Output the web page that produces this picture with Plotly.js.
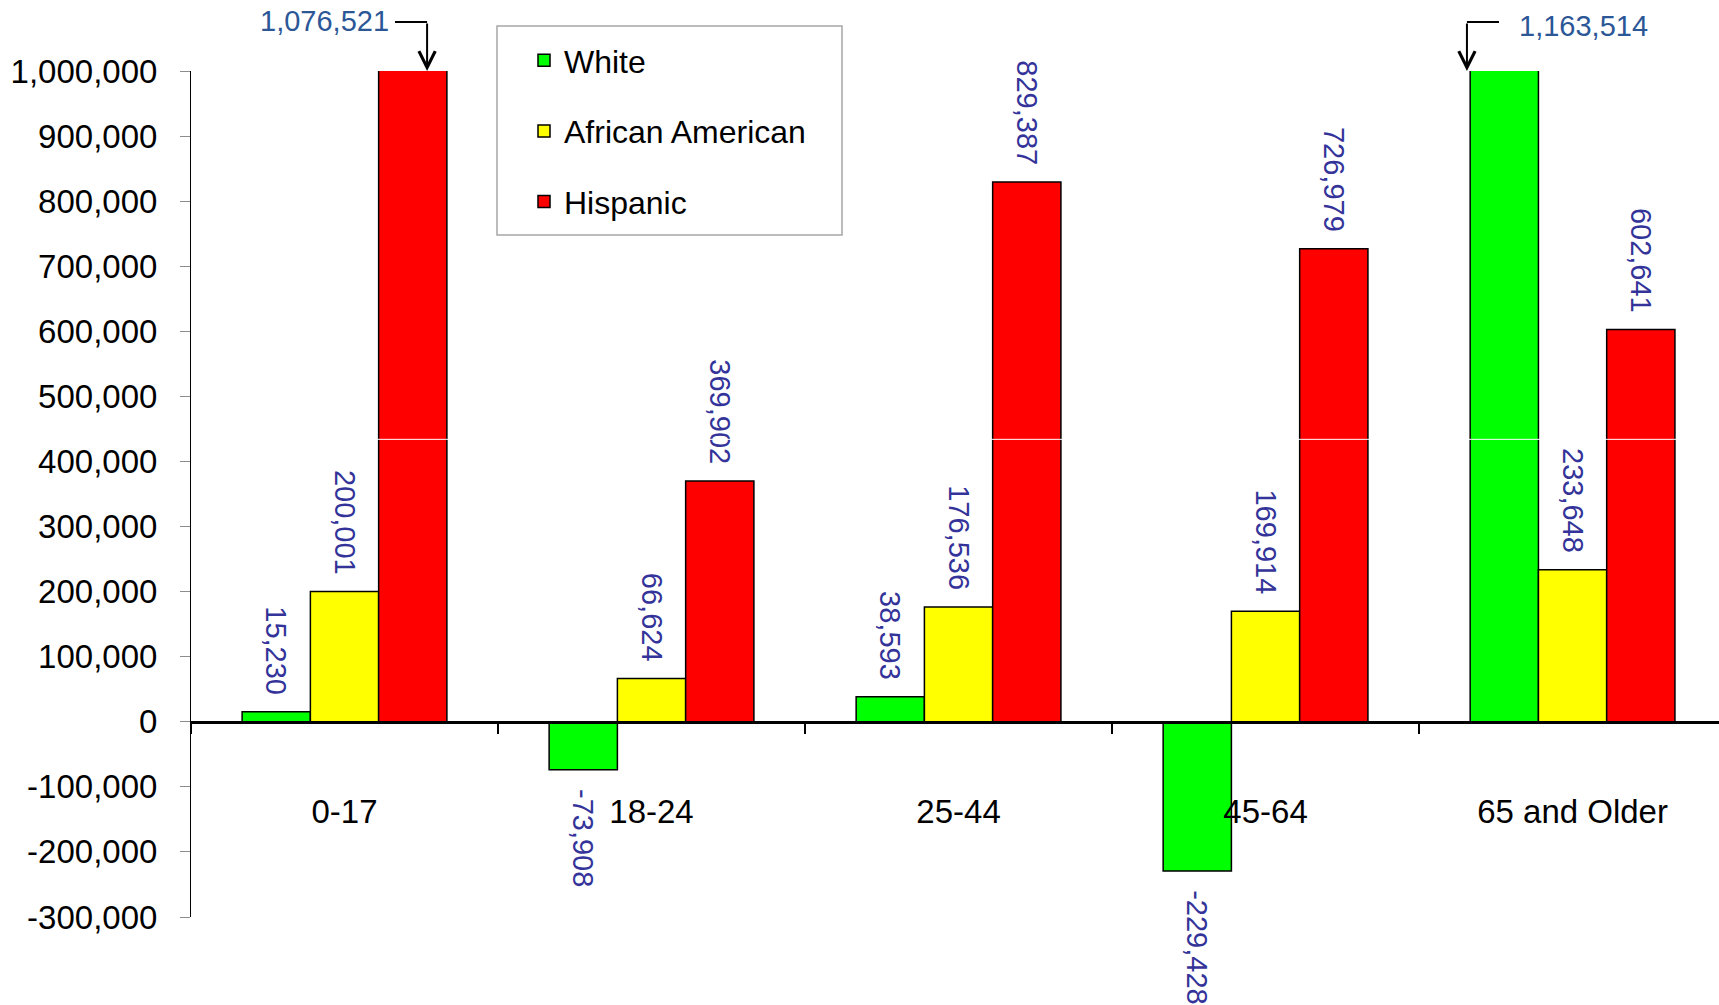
<!DOCTYPE html>
<html>
<head>
<meta charset="utf-8">
<script src="https://cdn.plot.ly/plotly-3.0.1.min.js"></script>
<style>html,body{margin:0;padding:0;background:#fff;}</style>
</head>
<body>
<div id="chart" style="width:1719px;height:1005px;"></div>
<script>
// ---- data ----
const categories = ['0-17', '18-24', '25-44', '45-64', '65 and Older'];
const seriesNames = ['White', 'African American', 'Hispanic'];
const white = [15230, -73908, 38593, -229428, 1163514];
const africanAmerican = [200001, 66624, 176536, 169914, 233648];
const hispanic = [1076521, 369902, 829387, 726979, 602641];
const yTickValues = [-300000, -200000, -100000, 0, 100000, 200000, 300000, 400000, 500000, 600000, 700000, 800000, 900000, 1000000];
const breakLineValue = 434000;

// ---- style ----
const seriesColors = ['#00FF00', '#FFFF00', '#FF0000'];
const FONT = '"Liberation Sans", Arial, sans-serif';
const labelColor = '#333399';
const calloutColor = '#2B5797';
const yMin = -300000, yMax = 1000000;
const xMin = -0.5, xMax = 4.477;
const plotL = 191, plotT = 71, plotW = 1528, plotH = 846;
const pxX = px => (px - plotL) / plotW;
const pxY = py => (plotT + plotH - py) / plotH;
const dataX = x => (x - xMin) / (xMax - xMin);

const fmt = v => v.toLocaleString('en-US');
const labelFor = v => v > yMax ? '' : (v >= 0 ? fmt(v) + '\u00a0\u2009' : '\u00a0\u00a0' + fmt(v));

const seriesValues = [white, africanAmerican, hispanic];
const traces = seriesValues.map((vals, i) => ({
  type: 'bar',
  name: seriesNames[i],
  x: categories,
  y: vals,
  legendgroup: 'g' + i,
  marker: {color: seriesColors[i], line: {color: '#000000', width: 1.5}},
  text: vals.map(labelFor),
  textposition: 'outside',
  textangle: 90,
  constraintext: 'none',
  cliponaxis: false,
  outsidetextfont: {family: FONT, size: 29, color: labelColor},
  hoverinfo: 'x+y+name'
}));

// callouts for the clipped bars (values above the axis maximum)
const callouts = [
  {value: hispanic[0], cat: 0, arrowOffset: 0.269, textSide: 'left', textPx: 391, textY: 21, lineEndPx: 395, lineY: 22},
  {value: white[4], cat: 4, arrowOffset: -0.344, textSide: 'right', textPx: 1517, textY: 26, lineEndPx: 1499, lineY: 22}
];
const annotations = [];
const shapes = [];
callouts.forEach(c => {
  const ax = c.cat + c.arrowOffset;
  annotations.push({
    xref: 'paper', yref: 'paper',
    x: pxX(c.textPx), y: pxY(c.textY),
    xanchor: c.textSide === 'left' ? 'right' : 'left', yanchor: 'middle',
    text: fmt(c.value), showarrow: false,
    font: {family: FONT, size: 29, color: calloutColor}
  });
  annotations.push({
    xref: 'x', yref: 'paper', x: ax, y: 1,
    text: '', showarrow: true, ax: 0, ay: -(plotT - c.lineY),
    arrowhead: 5, arrowsize: 1.6, arrowwidth: 2, arrowcolor: '#000000', standoff: 0
  });
  shapes.push({
    type: 'line', xref: 'paper', yref: 'paper',
    x0: dataX(ax), x1: pxX(c.lineEndPx), y0: pxY(c.lineY), y1: pxY(c.lineY),
    line: {color: '#000000', width: 2}
  });
});
// thin white break line across tall bars
shapes.push({
  type: 'line', xref: 'paper', yref: 'y', layer: 'above',
  x0: 0.005, x1: 1, y0: breakLineValue, y1: breakLineValue,
  line: {color: '#FFFFFF', width: 1}
});
// legend frame
shapes.push({
  type: 'rect', xref: 'paper', yref: 'paper',
  x0: pxX(497), x1: pxX(842), y0: pxY(26), y1: pxY(235),
  line: {color: '#A6A6A6', width: 1.5}, fillcolor: 'rgba(0,0,0,0)'
});

const layout = {
  width: 1719, height: 1005,
  margin: {l: plotL, r: 0, t: plotT, b: 1005 - plotT - plotH, pad: 0},
  paper_bgcolor: '#FFFFFF', plot_bgcolor: '#FFFFFF',
  font: {family: FONT, size: 33, color: '#000000'},
  barmode: 'group', bargap: 0.333, bargroupgap: 0,
  showlegend: true,
  legend: {
    x: pxX(524), y: pxY(33), xanchor: 'left', yanchor: 'top',
    font: {family: FONT, size: 32, color: '#000000'},
    bgcolor: 'rgba(0,0,0,0)', borderwidth: 0,
    tracegroupgap: 26, traceorder: 'grouped'
  },
  xaxis: {
    type: 'category', range: [xMin, xMax],
    anchor: 'free', position: (0 - yMin) / (yMax - yMin),
    showline: true, linecolor: '#000000', linewidth: 3,
    ticks: 'outside', tickson: 'boundaries', ticklen: 10, tickwidth: 1.5, tickcolor: '#000000',
    ticklabelstandoff: 60,
    tickfont: {family: FONT, size: 33, color: '#000000'},
    showgrid: false, zeroline: false, fixedrange: true
  },
  yaxis: {
    range: [yMin, yMax],
    tickmode: 'array', tickvals: yTickValues, ticktext: yTickValues.map(fmt),
    showline: true, linecolor: '#000000', linewidth: 1,
    ticks: 'outside', ticklen: 10, tickwidth: 1, tickcolor: '#8C8C8C',
    ticklabelstandoff: 16,
    tickfont: {family: FONT, size: 33, color: '#000000'},
    showgrid: false, zeroline: false, fixedrange: true
  },
  annotations: annotations,
  shapes: shapes
};

Plotly.newPlot('chart', traces, layout, {displayModeBar: false, staticPlot: true});
</script>
</body>
</html>
